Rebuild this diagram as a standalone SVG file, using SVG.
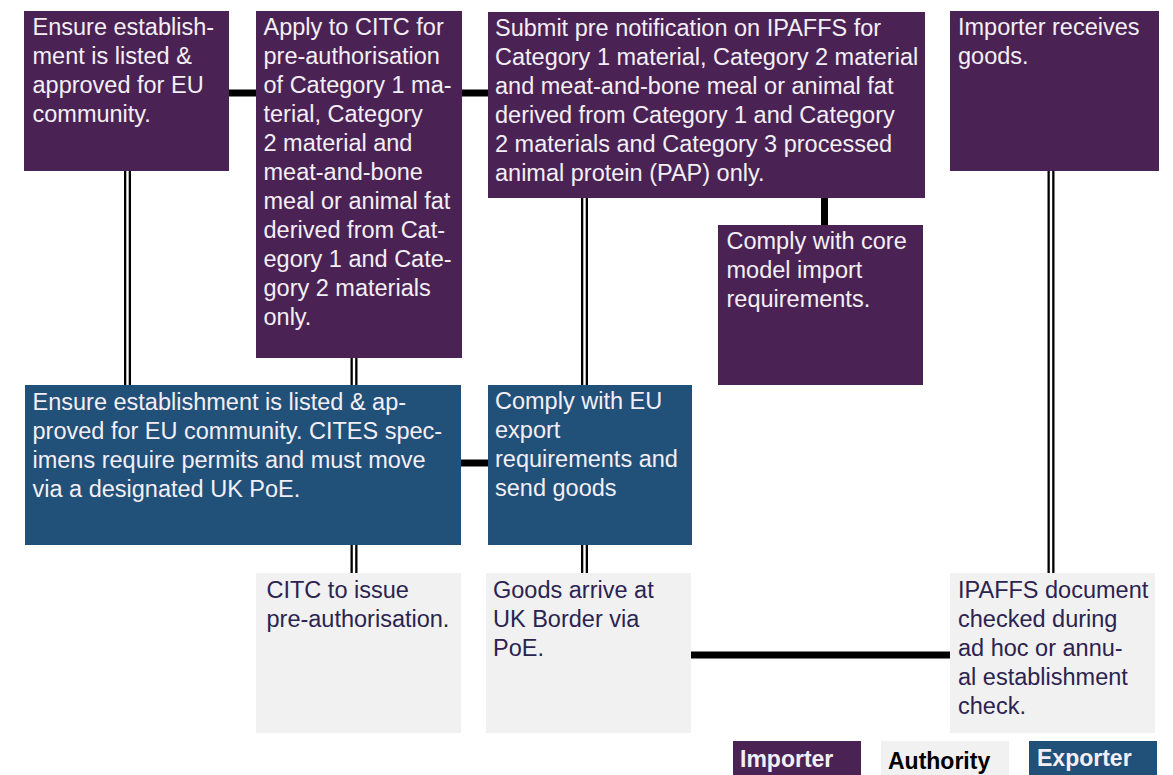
<svg xmlns="http://www.w3.org/2000/svg" width="1173" height="775" viewBox="0 0 1173 775">
  <style>
    .imp { fill: #4a2354; }
    .exp { fill: #215079; }
    .auth { fill: #f1f1f1; }
    text { font-family: "Liberation Sans", Arial, sans-serif; font-size: 23.5px; }
    .lt { fill: #f4eff6; }
    .dk { fill: #2b2350; }
    .thick { stroke: #000; stroke-width: 7; fill: none; }
    .dbl-o { stroke: #000; stroke-width: 7; fill: none; }
    .dbl-i { stroke: #fff; stroke-width: 2.4; fill: none; }
    .leg { font-weight: bold; font-size: 23px; }
  </style>

  <!-- connectors -->
  <g id="connectors">
    <!-- solid links -->
    <line class="thick" x1="229" y1="93" x2="256" y2="93"/>
    <line class="thick" x1="462" y1="93" x2="488" y2="93"/>
    <line class="thick" x1="824.5" y1="198" x2="824.5" y2="225"/>
    <line class="thick" x1="461" y1="463" x2="488" y2="463"/>
    <line class="thick" x1="691" y1="655" x2="950" y2="655"/>
    <!-- double links -->
    <g>
      <line class="dbl-o" x1="127.5" y1="171" x2="127.5" y2="385"/>
      <line class="dbl-i" x1="127.5" y1="171" x2="127.5" y2="385"/>
      <line class="dbl-o" x1="354" y1="358" x2="354" y2="385"/>
      <line class="dbl-i" x1="354" y1="358" x2="354" y2="385"/>
      <line class="dbl-o" x1="584.5" y1="198" x2="584.5" y2="385"/>
      <line class="dbl-i" x1="584.5" y1="198" x2="584.5" y2="385"/>
      <line class="dbl-o" x1="354" y1="545" x2="354" y2="573"/>
      <line class="dbl-i" x1="354" y1="545" x2="354" y2="573"/>
      <line class="dbl-o" x1="584.5" y1="545" x2="584.5" y2="573"/>
      <line class="dbl-i" x1="584.5" y1="545" x2="584.5" y2="573"/>
      <line class="dbl-o" x1="1051" y1="171" x2="1051" y2="573"/>
      <line class="dbl-i" x1="1051" y1="171" x2="1051" y2="573"/>
    </g>
  </g>

  <!-- importer steps -->
  <g id="imp-listed">
    <rect class="imp" x="24" y="11" width="205" height="160"/>
    <text class="lt" x="32.5">
      <tspan x="32.5" y="35">Ensure establish-</tspan>
      <tspan x="32.5" y="64">ment is listed &amp;</tspan>
      <tspan x="32.5" y="93">approved for EU</tspan>
      <tspan x="32.5" y="122">community.</tspan>
    </text>
  </g>

  <g id="imp-apply-citc">
    <rect class="imp" x="256" y="11" width="206" height="347"/>
    <text class="lt">
      <tspan x="263.5" y="35">Apply to CITC for</tspan>
      <tspan x="263.5" y="64">pre-authorisation</tspan>
      <tspan x="263.5" y="93">of Category 1 ma-</tspan>
      <tspan x="263.5" y="122">terial, Category</tspan>
      <tspan x="263.5" y="151">2 material and</tspan>
      <tspan x="263.5" y="180">meat-and-bone</tspan>
      <tspan x="263.5" y="209">meal or animal fat</tspan>
      <tspan x="263.5" y="238">derived from Cat-</tspan>
      <tspan x="263.5" y="267">egory 1 and Cate-</tspan>
      <tspan x="263.5" y="296">gory 2 materials</tspan>
      <tspan x="263.5" y="325">only.</tspan>
    </text>
  </g>

  <g id="imp-prenotify">
    <rect class="imp" x="488" y="12" width="437" height="186"/>
    <text class="lt">
      <tspan x="495" y="36">Submit pre notification on IPAFFS for</tspan>
      <tspan x="495" y="65">Category 1 material, Category 2 material</tspan>
      <tspan x="495" y="94">and meat-and-bone meal or animal fat</tspan>
      <tspan x="495" y="123">derived from Category 1 and Category</tspan>
      <tspan x="495" y="152">2 materials and Category 3 processed</tspan>
      <tspan x="495" y="181">animal protein (PAP) only.</tspan>
    </text>
  </g>

  <g id="imp-receives">
    <rect class="imp" x="950" y="11" width="209" height="160"/>
    <text class="lt">
      <tspan x="958" y="35">Importer receives</tspan>
      <tspan x="958" y="64">goods.</tspan>
    </text>
  </g>

  <g id="imp-core-model">
    <rect class="imp" x="718" y="225" width="205" height="160"/>
    <text class="lt">
      <tspan x="726.5" y="249">Comply with core</tspan>
      <tspan x="726.5" y="278">model import</tspan>
      <tspan x="726.5" y="307">requirements.</tspan>
    </text>
  </g>

  <!-- exporter steps -->
  <g id="exp-listed">
    <rect class="exp" x="25" y="385" width="436" height="160"/>
    <text class="lt">
      <tspan x="32.5" y="410">Ensure establishment is listed &amp; ap-</tspan>
      <tspan x="32.5" y="439">proved for EU community. CITES spec-</tspan>
      <tspan x="32.5" y="468">imens require permits and must move</tspan>
      <tspan x="32.5" y="497">via a designated UK PoE.</tspan>
    </text>
  </g>

  <g id="exp-send">
    <rect class="exp" x="488" y="385" width="204" height="160"/>
    <text class="lt">
      <tspan x="495" y="409">Comply with EU</tspan>
      <tspan x="495" y="438">export</tspan>
      <tspan x="495" y="467">requirements and</tspan>
      <tspan x="495" y="496">send goods</tspan>
    </text>
  </g>

  <!-- authority steps -->
  <g id="auth-issue">
    <rect class="auth" x="256" y="573" width="205" height="160"/>
    <text class="dk">
      <tspan x="266.5" y="598">CITC to issue</tspan>
      <tspan x="266.5" y="627">pre-authorisation.</tspan>
    </text>
  </g>

  <g id="auth-arrive">
    <rect class="auth" x="486" y="573" width="205" height="160"/>
    <text class="dk">
      <tspan x="493" y="598">Goods arrive at</tspan>
      <tspan x="493" y="627">UK Border via</tspan>
      <tspan x="493" y="656">PoE.</tspan>
    </text>
  </g>

  <g id="auth-check">
    <rect class="auth" x="950" y="573" width="205" height="160"/>
    <text class="dk">
      <tspan x="958" y="598">IPAFFS document</tspan>
      <tspan x="958" y="627">checked during</tspan>
      <tspan x="958" y="656">ad hoc or annu-</tspan>
      <tspan x="958" y="685">al establishment</tspan>
      <tspan x="958" y="714">check.</tspan>
    </text>
  </g>

  <!-- legend -->
  <g id="legend">
    <rect class="imp" x="733" y="741" width="128" height="34"/>
    <text class="leg lt" x="740" y="767">Importer</text>
    <rect class="auth" x="881" y="741" width="128" height="34"/>
    <text class="leg" fill="#000" x="888" y="769">Authority</text>
    <rect class="exp" x="1029" y="741" width="128" height="34"/>
    <text class="leg lt" x="1037" y="766">Exporter</text>
  </g>
</svg>
